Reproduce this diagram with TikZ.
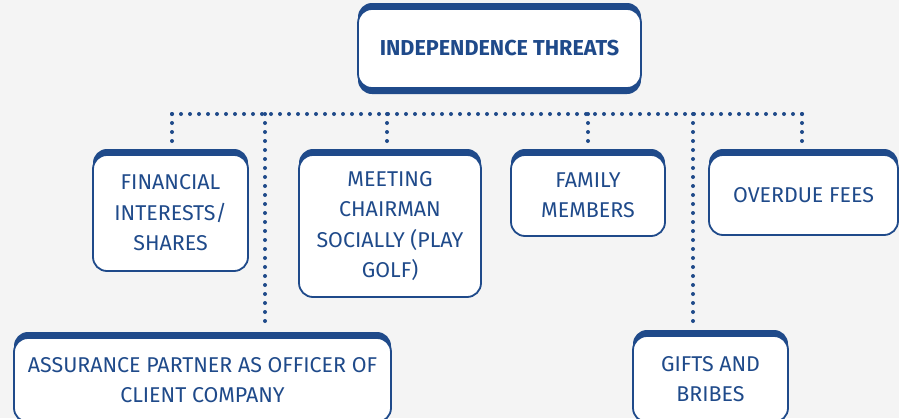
\documentclass[tikz,border=0pt]{standalone}
\usepackage{fontspec}
\setmainfont{Fira Sans}
\usetikzlibrary{shadows}
\definecolor{ThreatBlue}{HTML}{1F4A8A}
\definecolor{PageGrey}{HTML}{F4F4F4}

\begin{document}
\begin{tikzpicture}[x=1pt, y=-1pt, font=\fontsize{21.4}{30.5}\selectfont,
  th/.style={rectangle, rounded corners=14pt, draw=ThreatBlue, line width=1.8pt, fill=white,
    text=ThreatBlue, align=center, inner sep=0pt,
    general shadow={fill=ThreatBlue, shadow yshift=6pt}},
  hd/.style={th, font=\fontsize{21.6}{30.5}\selectfont\bfseries,
    general shadow={fill=ThreatBlue, shadow yshift=-6pt}},
  dots/.style={draw=ThreatBlue, line width=4pt, line cap=round, dash pattern=on 0pt off 9pt}]
  \useasboundingbox[fill=PageGrey] (0,0) rectangle (899,418);
  % top box
  \node[hd, minimum width=283pt, minimum height=79pt] (head) at (499.5,48.5) {INDEPENDENCE THREATS};
  % threats, upper row
  \node[th, minimum width=155pt, minimum height=116pt] (fin) at (170.5,213) {FINANCIAL\\INTERESTS/\\SHARES};
  \node[th, minimum width=182pt, minimum height=142pt] (meet) at (390,226) {MEETING\\CHAIRMAN\\SOCIALLY (PLAY\\GOLF)};
  \node[th, minimum width=154pt, minimum height=81pt] (fam) at (588,195.5) {FAMILY\\MEMBERS};
  \node[th, minimum width=189pt, minimum height=80pt] (over) at (803.5,195) {OVERDUE FEES};
  % threats, lower row
  \node[th, minimum width=377pt, minimum height=84pt] (assur) at (202.5,380) {ASSURANCE PARTNER AS OFFICER OF\\CLIENT COMPANY};
  \node[th, minimum width=155pt, minimum height=86pt] (gift) at (710.5,379) {GIFTS AND\\BRIBES};
  % dotted bus
  \coordinate (busL) at (172,114);
  \coordinate (busR) at (802,114);
  \coordinate (jA) at (265,114);
  \coordinate (jM) at (387,114);
  \coordinate (jF) at (588,114);
  \coordinate (jG) at (693,114);
  \draw[dots] (busL) -- (busR);
  \draw[dots] (busL) -- ([yshift=6pt]busL |- fin.north);
  \draw[dots] (jM) -- ([yshift=8pt]jM |- meet.north);
  \draw[dots] (jF) -- ([yshift=8pt]jF |- fam.north);
  \draw[dots] (busR) -- ([yshift=8pt]busR |- over.north);
  \draw[dots] (jA) -- ([yshift=8pt]jA |- assur.north);
  \draw[dots] (jG) -- ([yshift=8pt]jG |- gift.north);
\end{tikzpicture}
\end{document}
